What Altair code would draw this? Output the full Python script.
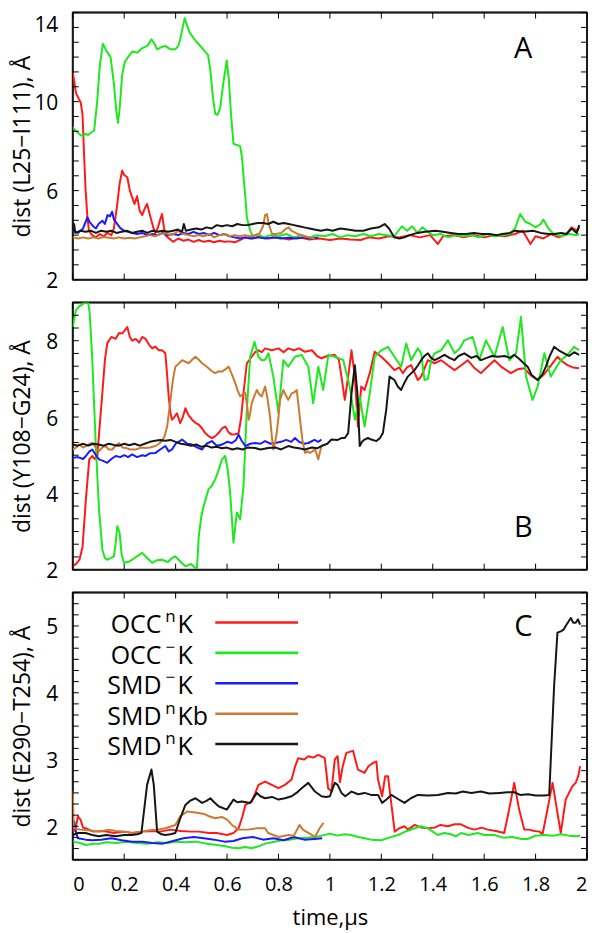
import altair as alt
import pandas as pd
import numpy as np

SERIES = ["OCCⁿK", "OCC⁻K", "SMD⁻K", "SMDⁿKb", "SMDⁿK"]
LEG_BASE = ["OCC", "OCC", "SMD", "SMD", "SMD"]
LEG_SUP = ["n", "−", "−", "n", "n"]
LEG_TAIL = ["K", "K", "K", "Kb", "K"]
COLORS = ["#ff1a1a", "#1ee81e", "#1a1aff", "#cc7a30", "#161616"]

# ---------------- Panel A : dist (L25-I111) ----------------
A_OCCnK = [(0.000, 11.3), (0.006, 10.9), (0.012, 10.4), (0.020, 10.2), (0.031, 9.95), (0.038, 9.4), (0.044, 7.6), (0.050, 6.0),
           (0.057, 4.8), (0.063, 4.2), (0.075, 4.0), (0.090, 3.9), (0.105, 4.05), (0.120, 3.95), (0.135, 4.1), (0.150, 4.0),
           (0.160, 4.3), (0.172, 5.3), (0.182, 6.3), (0.192, 6.9), (0.200, 6.7), (0.212, 6.6), (0.222, 6.0), (0.231, 5.7),
           (0.240, 5.4), (0.250, 5.75), (0.260, 5.1), (0.270, 4.9), (0.280, 5.2), (0.289, 5.4), (0.298, 5.0), (0.306, 4.65),
           (0.314, 4.3), (0.321, 4.1), (0.330, 4.3), (0.340, 4.7), (0.347, 4.95), (0.354, 4.4), (0.360, 4.0), (0.375, 3.85),
           (0.390, 3.7), (0.410, 3.85), (0.430, 3.75), (0.450, 3.8), (0.470, 3.7), (0.490, 3.78), (0.510, 3.7), (0.530, 3.75),
           (0.550, 3.68), (0.570, 3.75), (0.590, 3.7), (0.610, 3.72), (0.630, 3.68), (0.650, 3.78), (0.670, 3.9), (0.700, 3.85),
           (0.730, 3.95), (0.760, 3.85), (0.800, 3.9), (0.840, 3.8), (0.880, 3.9), (0.920, 3.8), (0.960, 3.85), (1.000, 3.78),
           (1.040, 3.85), (1.080, 3.8), (1.120, 3.78), (1.150, 3.9), (1.190, 3.85), (1.230, 3.95), (1.270, 3.9), (1.310, 4.0),
           (1.350, 3.9), (1.390, 4.0), (1.420, 3.6), (1.440, 3.95), (1.480, 4.0), (1.520, 3.9), (1.560, 4.0), (1.600, 3.9),
           (1.640, 4.0), (1.680, 3.95), (1.720, 4.05), (1.750, 4.2), (1.780, 3.6), (1.800, 3.95), (1.830, 3.85), (1.860, 4.05),
           (1.890, 3.9), (1.920, 4.05), (1.940, 4.35), (1.960, 4.2), (1.970, 4.35)]
A_OCCmK = [(0.000, 8.85), (0.010, 8.7), (0.020, 8.6), (0.030, 8.5), (0.040, 8.45), (0.050, 8.55), (0.060, 8.5), (0.070, 8.6),
           (0.083, 8.7), (0.095, 10.0), (0.105, 11.6), (0.117, 12.6), (0.130, 12.3), (0.147, 12.0), (0.160, 10.8), (0.170, 9.5),
           (0.176, 9.05), (0.183, 9.8), (0.192, 11.2), (0.203, 11.8), (0.215, 12.0), (0.231, 12.25), (0.250, 12.2), (0.270, 12.4),
           (0.290, 12.5), (0.306, 12.8), (0.318, 12.6), (0.328, 12.35), (0.345, 12.45), (0.360, 12.5), (0.380, 12.35), (0.399, 12.35),
           (0.410, 12.5), (0.418, 12.8), (0.427, 13.3), (0.435, 13.75), (0.445, 13.4), (0.455, 13.1), (0.464, 12.95), (0.480, 12.7),
           (0.496, 12.5), (0.510, 12.3), (0.526, 12.1), (0.535, 11.4), (0.545, 10.2), (0.554, 9.45), (0.563, 9.4), (0.573, 9.7),
           (0.585, 10.8), (0.599, 11.85), (0.607, 11.0), (0.615, 9.5), (0.625, 8.1), (0.638, 8.05), (0.651, 8.0), (0.658, 7.5),
           (0.665, 6.5), (0.672, 5.6), (0.677, 4.8), (0.690, 4.2), (0.700, 3.95), (0.720, 4.05), (0.740, 3.9), (0.770, 4.0),
           (0.800, 3.95), (0.830, 4.05), (0.860, 3.9), (0.890, 4.0), (0.920, 3.9), (0.950, 4.0), (0.980, 3.95), (1.010, 4.05),
           (1.040, 3.9), (1.070, 4.0), (1.100, 3.95), (1.130, 4.05), (1.160, 3.95), (1.190, 4.05), (1.220, 4.0), (1.250, 3.95),
           (1.280, 4.4), (1.300, 4.2), (1.320, 4.4), (1.340, 4.1), (1.360, 4.35), (1.380, 4.15), (1.400, 4.0), (1.430, 4.05),
           (1.460, 3.9), (1.490, 4.0), (1.520, 3.95), (1.550, 4.0), (1.580, 3.9), (1.610, 4.05), (1.640, 3.95), (1.670, 4.0),
           (1.700, 4.05), (1.720, 4.3), (1.740, 4.95), (1.760, 4.6), (1.780, 4.5), (1.800, 4.35), (1.820, 4.5), (1.830, 4.7),
           (1.850, 4.3), (1.870, 4.05), (1.900, 3.95), (1.930, 4.05), (1.960, 4.0), (1.970, 4.05)]
A_SMDmK = [(0.000, 4.2), (0.020, 4.1), (0.040, 4.3), (0.057, 4.8), (0.065, 4.6), (0.079, 4.4), (0.090, 4.3), (0.100, 4.5),
           (0.115, 4.65), (0.125, 4.5), (0.135, 4.9), (0.145, 4.85), (0.153, 5.05), (0.160, 4.7), (0.167, 4.6), (0.176, 4.45),
           (0.186, 4.3), (0.200, 4.2), (0.215, 4.15), (0.231, 4.1), (0.250, 4.05), (0.270, 4.1), (0.290, 4.0), (0.310, 4.05),
           (0.330, 4.0), (0.350, 4.1), (0.370, 4.0), (0.390, 4.05), (0.410, 4.0), (0.430, 4.1), (0.450, 4.05), (0.470, 4.15),
           (0.490, 4.05), (0.510, 4.1), (0.530, 4.0), (0.550, 4.1), (0.570, 4.0), (0.590, 4.05), (0.610, 3.95), (0.630, 3.9),
           (0.650, 3.85), (0.670, 3.9), (0.690, 3.85), (0.720, 3.9), (0.750, 3.85), (0.780, 3.9), (0.810, 3.85), (0.840, 3.88),
           (0.870, 3.85), (0.900, 3.9), (0.930, 3.85), (0.955, 3.9)]
A_SMDnKb = [(0.000, 3.9), (0.020, 3.85), (0.040, 3.9), (0.060, 3.85), (0.080, 3.9), (0.100, 3.85), (0.120, 3.92), (0.140, 3.88),
            (0.160, 3.85), (0.180, 3.9), (0.200, 3.85), (0.220, 3.88), (0.240, 3.85), (0.260, 3.9), (0.280, 3.95), (0.300, 4.0),
            (0.320, 3.95), (0.340, 4.05), (0.360, 4.1), (0.380, 4.0), (0.400, 4.1), (0.410, 4.2), (0.430, 4.05), (0.450, 4.0),
            (0.470, 3.95), (0.490, 4.0), (0.510, 3.95), (0.530, 4.05), (0.550, 3.9), (0.570, 4.0), (0.590, 4.05), (0.610, 3.95),
            (0.630, 4.0), (0.650, 3.95), (0.670, 4.0), (0.690, 3.95), (0.710, 4.0), (0.725, 4.05), (0.740, 4.4), (0.748, 4.9),
            (0.755, 4.95), (0.762, 4.5), (0.775, 4.05), (0.790, 4.05), (0.810, 4.1), (0.830, 4.3), (0.840, 4.35), (0.850, 4.2),
            (0.876, 4.05), (0.900, 3.95), (0.920, 3.9), (0.942, 3.84)]
A_SMDnK = [(0.000, 4.2), (0.005, 4.5), (0.010, 4.1), (0.030, 4.2), (0.050, 4.15), (0.070, 4.2), (0.090, 4.1), (0.110, 4.2),
           (0.130, 4.15), (0.150, 4.2), (0.170, 4.1), (0.190, 4.15), (0.210, 4.2), (0.230, 4.1), (0.250, 4.15), (0.270, 4.2),
           (0.290, 4.1), (0.310, 4.2), (0.330, 4.15), (0.350, 4.2), (0.370, 4.15), (0.390, 4.2), (0.410, 4.25), (0.425, 4.15),
           (0.432, 4.5), (0.440, 4.2), (0.460, 4.25), (0.480, 4.3), (0.500, 4.25), (0.520, 4.35), (0.540, 4.3), (0.560, 4.45),
           (0.580, 4.4), (0.600, 4.45), (0.620, 4.4), (0.640, 4.5), (0.660, 4.45), (0.680, 4.45), (0.700, 4.5), (0.720, 4.55),
           (0.740, 4.55), (0.760, 4.5), (0.780, 4.6), (0.800, 4.5), (0.820, 4.55), (0.840, 4.5), (0.860, 4.45), (0.880, 4.4),
           (0.900, 4.35), (0.920, 4.3), (0.940, 4.25), (0.965, 4.2), (0.990, 4.25), (1.010, 4.2), (1.040, 4.3), (1.070, 4.25),
           (1.100, 4.2), (1.130, 4.2), (1.160, 4.3), (1.190, 4.35), (1.213, 4.5), (1.230, 4.3), (1.250, 3.9), (1.270, 3.85),
           (1.290, 3.9), (1.310, 4.0), (1.340, 4.1), (1.370, 4.15), (1.410, 4.2), (1.440, 4.15), (1.470, 4.1), (1.500, 4.05),
           (1.530, 4.05), (1.560, 4.1), (1.590, 4.05), (1.620, 4.05), (1.650, 4.0), (1.670, 4.05), (1.700, 4.1), (1.720, 4.2),
           (1.750, 4.15), (1.790, 4.2), (1.820, 4.1), (1.850, 4.05), (1.870, 4.05), (1.900, 4.1), (1.920, 4.05), (1.940, 4.3),
           (1.960, 4.1), (1.970, 4.45)]

# ---------------- Panel B : dist (Y108-G24) ----------------
B_OCCnK = [(0.000, 2.09), (0.013, 2.15), (0.026, 2.26), (0.038, 2.6), (0.051, 3.84), (0.064, 4.89), (0.076, 4.98), (0.086, 4.9),
           (0.096, 5.0), (0.105, 5.8), (0.115, 6.63), (0.125, 7.5), (0.134, 7.93), (0.150, 8.1), (0.167, 8.05), (0.180, 8.2),
           (0.193, 8.19), (0.205, 8.3), (0.212, 8.36), (0.222, 8.1), (0.231, 8.0), (0.245, 8.05), (0.258, 7.95), (0.270, 8.1),
           (0.283, 8.05), (0.296, 7.9), (0.309, 7.8), (0.320, 7.85), (0.335, 7.75), (0.347, 7.75), (0.360, 7.67), (0.367, 7.1),
           (0.373, 6.54), (0.380, 6.1), (0.386, 5.93), (0.395, 6.0), (0.405, 6.1), (0.418, 5.84), (0.428, 6.0), (0.438, 6.23),
           (0.450, 6.05), (0.464, 5.93), (0.477, 5.85), (0.490, 5.8), (0.503, 5.7), (0.515, 5.58), (0.528, 5.5), (0.541, 5.45),
           (0.554, 5.5), (0.567, 5.58), (0.580, 5.7), (0.593, 5.75), (0.606, 5.6), (0.619, 5.54), (0.632, 5.55), (0.645, 5.58),
           (0.655, 6.0), (0.664, 6.63), (0.677, 7.41), (0.696, 7.58), (0.709, 7.7), (0.722, 7.75), (0.735, 7.7), (0.748, 7.8),
           (0.774, 7.75), (0.800, 7.8), (0.820, 7.7), (0.838, 7.8), (0.860, 7.75), (0.880, 7.8), (0.903, 7.71), (0.930, 7.75),
           (0.950, 7.6), (0.967, 7.54), (0.990, 7.6), (1.019, 7.63), (1.035, 7.5), (1.045, 7.06), (1.058, 6.45), (1.071, 7.06),
           (1.084, 7.75), (1.097, 7.06), (1.109, 5.75), (1.122, 6.8), (1.135, 6.71), (1.155, 7.15), (1.174, 7.71), (1.200, 7.58),
           (1.226, 7.41), (1.251, 7.23), (1.270, 7.3), (1.284, 7.15), (1.300, 7.3), (1.316, 7.36), (1.342, 6.97), (1.355, 7.06),
           (1.381, 7.49), (1.407, 7.41), (1.433, 7.49), (1.460, 7.35), (1.485, 7.23), (1.510, 7.35), (1.536, 7.49), (1.560, 7.3),
           (1.588, 7.15), (1.610, 7.3), (1.640, 7.49), (1.670, 7.3), (1.704, 7.15), (1.730, 7.25), (1.756, 7.28), (1.780, 7.1),
           (1.808, 6.97), (1.830, 7.1), (1.846, 7.23), (1.865, 7.4), (1.885, 7.58), (1.905, 7.45), (1.924, 7.36), (1.945, 7.3),
           (1.969, 7.28)]
B_OCCmK = [(0.000, 8.36), (0.012, 8.8), (0.025, 8.9), (0.038, 8.96), (0.050, 9.0), (0.060, 9.0), (0.066, 8.71), (0.076, 7.49),
           (0.089, 5.32), (0.102, 3.58), (0.115, 2.53), (0.125, 2.3), (0.134, 2.26), (0.147, 2.3), (0.160, 2.35), (0.167, 2.7),
           (0.173, 3.14), (0.182, 2.97), (0.190, 2.4), (0.199, 2.18), (0.215, 2.2), (0.231, 2.26), (0.250, 2.35), (0.270, 2.44),
           (0.290, 2.3), (0.309, 2.18), (0.328, 2.25), (0.347, 2.26), (0.370, 2.2), (0.385, 2.3), (0.399, 2.35), (0.420, 2.2),
           (0.438, 2.09), (0.460, 2.15), (0.475, 2.05), (0.483, 2.04), (0.490, 2.88), (0.500, 3.4), (0.509, 3.67), (0.528, 4.11),
           (0.541, 4.2), (0.554, 4.37), (0.567, 4.6), (0.580, 4.89), (0.593, 4.98), (0.603, 4.6), (0.612, 4.02), (0.625, 2.71),
           (0.638, 3.5), (0.651, 3.32), (0.664, 4.2), (0.677, 6.2), (0.690, 7.58), (0.707, 7.97), (0.722, 7.58), (0.735, 7.49),
           (0.748, 7.5), (0.761, 7.67), (0.780, 7.06), (0.800, 6.1), (0.819, 7.49), (0.838, 7.32), (0.864, 7.58), (0.890, 7.63),
           (0.916, 7.32), (0.935, 6.36), (0.955, 7.32), (0.974, 6.71), (0.994, 7.63), (1.019, 7.58), (1.052, 7.49), (1.077, 6.8),
           (1.097, 5.93), (1.116, 6.54), (1.135, 5.75), (1.155, 6.62), (1.174, 7.58), (1.200, 7.75), (1.226, 7.84), (1.251, 7.58),
           (1.277, 7.32), (1.297, 7.93), (1.316, 7.49), (1.342, 7.8), (1.355, 7.67), (1.368, 6.97), (1.381, 7.0), (1.394, 7.49),
           (1.407, 7.67), (1.433, 7.75), (1.459, 8.01), (1.485, 7.67), (1.505, 7.8), (1.523, 8.01), (1.555, 8.1), (1.581, 7.49),
           (1.607, 8.01), (1.640, 7.58), (1.672, 8.36), (1.698, 7.49), (1.724, 7.67), (1.743, 8.62), (1.763, 7.06), (1.788, 6.45),
           (1.808, 6.8), (1.834, 7.67), (1.859, 7.06), (1.880, 7.3), (1.898, 7.49), (1.924, 7.63), (1.950, 7.84), (1.969, 7.75)]
B_SMDmK = [(0.000, 4.93), (0.020, 4.95), (0.040, 4.9), (0.051, 4.98), (0.065, 5.1), (0.076, 5.15), (0.090, 5.0), (0.102, 4.89),
           (0.118, 4.85), (0.134, 4.8), (0.150, 4.9), (0.167, 4.98), (0.185, 4.95), (0.200, 5.0), (0.215, 4.95), (0.231, 5.02),
           (0.250, 4.95), (0.270, 5.0), (0.283, 4.98), (0.300, 5.05), (0.322, 5.06), (0.340, 5.15), (0.360, 5.24), (0.373, 5.1),
           (0.386, 5.15), (0.400, 5.3), (0.425, 5.41), (0.445, 5.3), (0.464, 5.28), (0.485, 5.2), (0.503, 5.15), (0.520, 5.3),
           (0.541, 5.37), (0.560, 5.25), (0.580, 5.28), (0.600, 5.35), (0.619, 5.32), (0.635, 5.4), (0.645, 5.54), (0.655, 5.4),
           (0.671, 5.24), (0.690, 5.3), (0.709, 5.32), (0.730, 5.3), (0.748, 5.37), (0.770, 5.3), (0.787, 5.32), (0.810, 5.35),
           (0.830, 5.4), (0.850, 5.35), (0.864, 5.45), (0.880, 5.35), (0.900, 5.3), (0.916, 5.32), (0.940, 5.4), (0.955, 5.35),
           (0.967, 5.41)]
B_SMDnKb = [(0.000, 5.15), (0.013, 5.2), (0.026, 5.28), (0.040, 5.2), (0.051, 5.24), (0.065, 5.3), (0.076, 5.32), (0.090, 5.2),
            (0.102, 5.11), (0.115, 5.2), (0.128, 5.24), (0.140, 5.15), (0.154, 5.15), (0.167, 5.25), (0.180, 5.32), (0.193, 5.2),
            (0.206, 5.19), (0.225, 5.15), (0.245, 5.15), (0.265, 5.2), (0.283, 5.19), (0.300, 5.2), (0.322, 5.24), (0.335, 5.3),
            (0.347, 5.37), (0.357, 5.5), (0.367, 5.75), (0.380, 6.45), (0.390, 7.0), (0.399, 7.32), (0.412, 7.4), (0.425, 7.49),
            (0.438, 7.45), (0.451, 7.41), (0.464, 7.5), (0.477, 7.58), (0.490, 7.5), (0.503, 7.41), (0.515, 7.35), (0.528, 7.28),
            (0.541, 7.2), (0.554, 7.15), (0.567, 7.2), (0.580, 7.19), (0.593, 7.25), (0.606, 7.32), (0.620, 7.1), (0.632, 6.89),
            (0.641, 6.7), (0.651, 6.54), (0.661, 6.6), (0.671, 6.63), (0.678, 6.3), (0.684, 5.93), (0.690, 6.1), (0.696, 6.36),
            (0.706, 6.55), (0.716, 6.71), (0.725, 6.6), (0.735, 6.54), (0.748, 6.8), (0.757, 6.5), (0.767, 6.02), (0.774, 5.5),
            (0.780, 5.15), (0.786, 5.3), (0.793, 5.58), (0.800, 6.0), (0.806, 6.45), (0.819, 6.71), (0.830, 6.55), (0.838, 6.45),
            (0.851, 6.62), (0.862, 6.65), (0.871, 6.71), (0.878, 6.3), (0.884, 5.93), (0.893, 5.4), (0.903, 5.06), (0.912, 5.1),
            (0.922, 5.06), (0.932, 5.1), (0.942, 5.15), (0.950, 5.0), (0.955, 4.89), (0.962, 5.1), (0.967, 5.24)]
B_SMDnK = [(0.000, 5.28), (0.020, 5.25), (0.040, 5.3), (0.060, 5.25), (0.080, 5.3), (0.100, 5.28), (0.120, 5.25), (0.140, 5.3),
           (0.160, 5.27), (0.180, 5.25), (0.200, 5.3), (0.220, 5.26), (0.240, 5.3), (0.260, 5.25), (0.280, 5.3), (0.300, 5.35),
           (0.320, 5.38), (0.340, 5.4), (0.360, 5.38), (0.380, 5.4), (0.400, 5.35), (0.420, 5.3), (0.440, 5.28), (0.460, 5.25),
           (0.480, 5.28), (0.500, 5.22), (0.520, 5.25), (0.540, 5.2), (0.560, 5.22), (0.580, 5.18), (0.600, 5.2), (0.620, 5.15),
           (0.640, 5.18), (0.660, 5.15), (0.680, 5.2), (0.709, 5.19), (0.730, 5.15), (0.760, 5.19), (0.790, 5.2), (0.810, 5.15),
           (0.838, 5.24), (0.860, 5.2), (0.880, 5.18), (0.903, 5.15), (0.930, 5.2), (0.950, 5.18), (0.967, 5.24), (0.990, 5.3),
           (1.006, 5.41), (1.030, 5.4), (1.045, 5.45), (1.058, 5.45), (1.071, 5.58), (1.084, 6.62), (1.097, 7.36), (1.107, 6.62),
           (1.116, 5.24), (1.125, 5.35), (1.135, 5.41), (1.148, 5.45), (1.161, 5.41), (1.181, 5.37), (1.195, 5.45), (1.206, 5.58),
           (1.219, 6.19), (1.232, 7.06), (1.251, 6.97), (1.264, 6.8), (1.277, 6.71), (1.290, 6.9), (1.303, 7.06), (1.329, 7.23),
           (1.342, 7.35), (1.355, 7.49), (1.368, 7.6), (1.381, 7.67), (1.394, 7.55), (1.407, 7.49), (1.425, 7.55), (1.446, 7.63),
           (1.465, 7.55), (1.484, 7.49), (1.500, 7.6), (1.523, 7.67), (1.550, 7.55), (1.570, 7.6), (1.588, 7.49), (1.610, 7.55),
           (1.630, 7.6), (1.653, 7.58), (1.680, 7.6), (1.700, 7.55), (1.717, 7.63), (1.740, 7.5), (1.755, 7.4), (1.769, 7.32),
           (1.785, 7.1), (1.808, 6.97), (1.825, 7.1), (1.840, 7.32), (1.855, 7.6), (1.872, 7.84), (1.890, 7.75), (1.911, 7.67),
           (1.930, 7.6), (1.950, 7.7), (1.969, 7.63)]

# ---------------- Panel C : dist (E290-T254) ----------------
C_OCCnK = [(0.000, 1.92), (0.010, 1.95), (0.020, 2.15), (0.030, 2.1), (0.040, 1.98), (0.050, 1.97), (0.080, 1.92), (0.120, 1.93),
           (0.160, 1.9), (0.200, 1.92), (0.231, 1.9), (0.270, 1.92), (0.310, 1.93), (0.340, 1.92), (0.380, 1.95), (0.420, 1.93),
           (0.460, 1.92), (0.490, 1.92), (0.530, 1.9), (0.560, 1.9), (0.600, 1.87), (0.625, 1.9), (0.645, 1.97), (0.660, 2.15),
           (0.671, 2.32), (0.696, 2.37), (0.710, 2.5), (0.722, 2.62), (0.748, 2.67), (0.774, 2.62), (0.800, 2.57), (0.825, 2.62),
           (0.851, 2.7), (0.865, 2.9), (0.877, 3.02), (0.900, 3.0), (0.916, 3.05), (0.935, 3.03), (0.955, 3.07), (0.980, 3.02),
           (0.993, 2.57), (1.006, 2.52), (1.019, 3.0), (1.030, 3.05), (1.039, 2.66), (1.050, 2.9), (1.064, 3.1), (1.090, 3.13),
           (1.109, 2.85), (1.135, 2.8), (1.150, 2.9), (1.168, 2.95), (1.181, 2.97), (1.187, 2.7), (1.203, 2.45), (1.215, 2.75),
           (1.226, 2.75), (1.240, 2.3), (1.252, 1.92), (1.270, 1.97), (1.290, 2.0), (1.303, 1.95), (1.330, 2.02), (1.355, 1.98),
           (1.380, 1.97), (1.407, 1.98), (1.430, 2.02), (1.459, 2.0), (1.485, 2.03), (1.510, 2.03), (1.535, 1.98), (1.562, 1.95),
           (1.590, 1.98), (1.614, 1.95), (1.645, 1.93), (1.678, 1.9), (1.697, 2.25), (1.717, 2.65), (1.736, 2.25), (1.756, 1.95),
           (1.775, 1.95), (1.795, 1.93), (1.815, 1.92), (1.827, 1.88), (1.846, 2.25), (1.866, 2.65), (1.885, 2.2), (1.898, 1.9),
           (1.917, 2.4), (1.930, 2.5), (1.943, 2.6), (1.956, 2.65), (1.966, 2.75), (1.973, 2.9)]
C_OCCmK = [(0.000, 1.77), (0.030, 1.75), (0.050, 1.72), (0.080, 1.74), (0.102, 1.74), (0.130, 1.76), (0.170, 1.75), (0.210, 1.77),
           (0.250, 1.75), (0.290, 1.74), (0.330, 1.76), (0.370, 1.75), (0.400, 1.77), (0.440, 1.76), (0.480, 1.77), (0.520, 1.74),
           (0.560, 1.72), (0.593, 1.7), (0.620, 1.68), (0.645, 1.67), (0.670, 1.69), (0.696, 1.67), (0.722, 1.7), (0.748, 1.74),
           (0.775, 1.76), (0.812, 1.79), (0.845, 1.8), (0.877, 1.82), (0.910, 1.83), (0.942, 1.84), (0.970, 1.86), (1.000, 1.89),
           (1.030, 1.86), (1.058, 1.88), (1.084, 1.87), (1.110, 1.84), (1.135, 1.82), (1.160, 1.8), (1.200, 1.79), (1.230, 1.83),
           (1.265, 1.87), (1.300, 1.93), (1.330, 1.97), (1.355, 2.0), (1.381, 1.97), (1.400, 1.92), (1.420, 1.87), (1.445, 1.9),
           (1.470, 1.88), (1.490, 1.85), (1.510, 1.9), (1.540, 1.87), (1.575, 1.9), (1.600, 1.87), (1.640, 1.87), (1.675, 1.83),
           (1.710, 1.84), (1.745, 1.81), (1.769, 1.81), (1.800, 1.86), (1.833, 1.87), (1.870, 1.86), (1.898, 1.88), (1.930, 1.86),
           (1.960, 1.85), (1.973, 1.86)]
C_SMDmK = [(0.000, 1.97), (0.006, 2.07), (0.013, 1.9), (0.020, 1.82), (0.050, 1.8), (0.076, 1.79), (0.110, 1.8), (0.150, 1.82),
           (0.190, 1.79), (0.231, 1.77), (0.270, 1.77), (0.310, 1.75), (0.350, 1.74), (0.390, 1.78), (0.430, 1.82), (0.470, 1.84),
           (0.510, 1.82), (0.550, 1.8), (0.590, 1.77), (0.625, 1.78), (0.660, 1.82), (0.700, 1.84), (0.740, 1.8), (0.780, 1.82),
           (0.820, 1.79), (0.860, 1.84), (0.900, 1.8), (0.940, 1.81), (0.970, 1.82)]
C_SMDnKb = [(0.000, 2.52), (0.002, 2.22), (0.004, 1.97), (0.030, 1.95), (0.060, 1.94), (0.102, 1.92), (0.140, 1.95), (0.167, 1.93),
            (0.200, 1.92), (0.231, 1.9), (0.270, 1.92), (0.300, 1.94), (0.330, 1.95), (0.360, 1.97), (0.399, 2.02), (0.418, 2.15),
            (0.444, 2.22), (0.470, 2.21), (0.490, 2.2), (0.515, 2.18), (0.530, 2.15), (0.554, 2.12), (0.580, 2.14), (0.600, 2.1),
            (0.619, 2.02), (0.645, 1.95), (0.680, 1.95), (0.716, 1.97), (0.748, 1.97), (0.760, 1.9), (0.800, 1.84), (0.838, 1.87),
            (0.860, 1.86), (0.882, 2.02), (0.895, 1.95), (0.916, 1.9), (0.942, 1.84), (0.960, 1.97), (0.975, 2.05)]
C_SMDnK = [(0.000, 1.87), (0.020, 1.9), (0.050, 1.9), (0.076, 1.87), (0.102, 1.85), (0.130, 1.87), (0.167, 1.85), (0.200, 1.87),
           (0.231, 1.87), (0.250, 1.88), (0.267, 1.9), (0.289, 2.62), (0.306, 2.85), (0.315, 2.62), (0.328, 1.92), (0.345, 1.88),
           (0.360, 1.87), (0.380, 1.88), (0.399, 1.9), (0.418, 2.12), (0.438, 2.32), (0.455, 2.38), (0.477, 2.42), (0.503, 2.35),
           (0.520, 2.38), (0.535, 2.42), (0.550, 2.36), (0.567, 2.3), (0.599, 2.25), (0.625, 2.4), (0.640, 2.36), (0.657, 2.37),
           (0.690, 2.35), (0.716, 2.5), (0.730, 2.45), (0.748, 2.42), (0.775, 2.44), (0.800, 2.4), (0.825, 2.42), (0.851, 2.45),
           (0.870, 2.5), (0.890, 2.57), (0.916, 2.65), (0.942, 2.52), (0.967, 2.45), (0.985, 2.44), (1.000, 2.45), (1.019, 2.65),
           (1.030, 2.62), (1.045, 2.5), (1.060, 2.45), (1.084, 2.52), (1.110, 2.48), (1.135, 2.5), (1.160, 2.47), (1.187, 2.47),
           (1.203, 2.35), (1.220, 2.4), (1.239, 2.47), (1.260, 2.42), (1.290, 2.35), (1.315, 2.42), (1.342, 2.47), (1.381, 2.46),
           (1.420, 2.47), (1.459, 2.5), (1.490, 2.49), (1.517, 2.52), (1.550, 2.5), (1.587, 2.52), (1.620, 2.49), (1.660, 2.5),
           (1.690, 2.51), (1.717, 2.51), (1.740, 2.47), (1.770, 2.48), (1.800, 2.46), (1.833, 2.46), (1.853, 2.47), (1.872, 4.1),
           (1.885, 4.9), (1.898, 4.92), (1.910, 4.95), (1.917, 5.0), (1.937, 5.12), (1.946, 5.05), (1.956, 5.05), (1.965, 5.1),
           (1.973, 5.02)]

X_TICKS = [0.0, 0.2, 0.4, 0.6, 0.8, 1.0, 1.2, 1.4, 1.6, 1.8, 2.0]
A_YTICKS = [2, 6, 10, 14]
B_YTICKS = [2, 4, 6, 8]
C_YTICKS = [2, 3, 4, 5]
A_YDOMAIN = [2, 14]
B_YDOMAIN = [2, 9]
C_YDOMAIN = [1.5, 5.5]
A_MINOR = list(np.round(np.arange(2, 14.001, 2 / 3), 4))
B_MINOR = list(np.round(np.arange(2, 9.001, 1 / 3), 4))
C_MINOR = list(np.round(np.arange(1.5, 5.501, 1 / 6), 4))

W, H = 516, 268
FONT = "Open Sans"
TICK = 6
FRAME = "#1a1a1a"


def panel(series_data, ydom, yticks, minor, title, letter, letter_y, bottom=False, legend=False):
    xs = alt.Scale(domain=[0, 2], nice=False, zero=False)
    ys = alt.Scale(domain=ydom, nice=False, zero=False)
    if bottom:
        xaxis = alt.Axis(values=X_TICKS, format="~g", ticks=False, domain=False, grid=False,
                         labelFontSize=20, labelFont=FONT, labelColor="black", labelPadding=15,
                         title="time,µs", titleFontSize=22, titleFont=FONT, titleFontWeight="normal",
                         titleColor="black", titlePadding=13)
    else:
        xaxis = None
    top_test = "datum.value >= %g" % ydom[1]
    yaxis = alt.Axis(values=yticks, ticks=False, domain=False, grid=False,
                     labelFontSize=21, labelFont=FONT, labelColor="black", labelPadding=15,
                     labelOffset=2,
                     labelBaseline={"condition": {"test": top_test, "value": "top"}, "value": "middle"},
                     minExtent=32, maxExtent=32,
                     title=title, titleFontSize=23, titleFont=FONT, titleFontWeight="normal",
                     titleColor="black", titlePadding=6)
    X = lambda: alt.X("t:Q", scale=xs, axis=xaxis)
    Y = lambda: alt.Y("v:Q", scale=ys, axis=yaxis)

    layers = []
    # frame of the plot area: four rules along the domain edges (drawn first, under the data)
    edge_x = pd.DataFrame({"t": [0.0, 2.0]})
    edge_y = pd.DataFrame({"v": list(ydom)})
    layers.append(alt.Chart(edge_x).mark_rule(color=FRAME, strokeWidth=2, opacity=1).encode(
        x=X(), y=alt.value(0), y2=alt.value(H)))
    layers.append(alt.Chart(edge_y).mark_rule(color=FRAME, strokeWidth=2, opacity=1).encode(
        y=Y(), x=alt.value(0), x2=alt.value(W)))
    for (pts, color) in zip(series_data, COLORS):
        df = pd.DataFrame(pts, columns=["t", "v"])
        layers.append(alt.Chart(df).mark_line(color=color, strokeWidth=2.0, clip=True,
                                              strokeJoin="round").encode(x=X(), y=Y()))
    ydf = pd.DataFrame({"v": minor})
    xdf = pd.DataFrame({"t": X_TICKS})
    tick_style = dict(color="black", strokeWidth=1)
    layers.append(alt.Chart(ydf).mark_rule(**tick_style).encode(
        y=Y(), x=alt.value(0), x2=alt.value(TICK)))
    layers.append(alt.Chart(ydf).mark_rule(**tick_style).encode(
        y=Y(), x=alt.value(W - TICK), x2=alt.value(W)))
    layers.append(alt.Chart(xdf).mark_rule(**tick_style).encode(
        x=X(), y=alt.value(0), y2=alt.value(TICK)))
    layers.append(alt.Chart(xdf).mark_rule(**tick_style).encode(
        x=X(), y=alt.value(H - TICK), y2=alt.value(H)))
    layers.append(alt.Chart(pd.DataFrame({"l": [letter]})).mark_text(
        fontSize=29, font=FONT, color="black", align="center", baseline="middle").encode(
        x=alt.value(452), y=alt.value(letter_y), text="l:N"))
    if legend:
        ly = [30, 60.5, 91, 121.5, 152]
        for base, sup, tail, color, yy in zip(LEG_BASE, LEG_SUP, LEG_TAIL, COLORS, ly):
            layers.append(alt.Chart(pd.DataFrame({"s": [base]})).mark_text(
                fontSize=25, font=FONT, color="black", align="right", baseline="middle").encode(
                x=alt.value(89), y=alt.value(yy + 3), text="s:N"))
            layers.append(alt.Chart(pd.DataFrame({"s": [sup]})).mark_text(
                fontSize=17, font=FONT, color="black", align="center", baseline="middle").encode(
                x=alt.value(98), y=alt.value(yy - 5), text="s:N"))
            layers.append(alt.Chart(pd.DataFrame({"s": [tail]})).mark_text(
                fontSize=25, font=FONT, color="black", align="left", baseline="middle").encode(
                x=alt.value(105), y=alt.value(yy + 3), text="s:N"))
            layers.append(alt.Chart(pd.DataFrame({"s": [base]})).mark_rule(
                color=color, strokeWidth=2.6).encode(
                x=alt.value(143), x2=alt.value(226), y=alt.value(yy)))
    return alt.layer(*layers).properties(width=W, height=H)


pA = panel([A_OCCnK, A_OCCmK, A_SMDmK, A_SMDnKb, A_SMDnK], A_YDOMAIN, A_YTICKS, A_MINOR,
           "dist (L25−I111), Å", "A", 37)
pB = panel([B_OCCnK, B_OCCmK, B_SMDmK, B_SMDnKb, B_SMDnK], B_YDOMAIN, B_YTICKS, B_MINOR,
           "dist (Y108−G24), Å", "B", 226)
pC = panel([C_OCCnK, C_OCCmK, C_SMDmK, C_SMDnKb, C_SMDnK], C_YDOMAIN, C_YTICKS, C_MINOR,
           "dist (E290−T254), Å", "C", 35, bottom=True, legend=True)

chart = alt.vconcat(pA, pB, pC, spacing=23, bounds="flush").properties(
    padding={"left": 3, "top": 1, "right": 3, "bottom": 4},
    background="white"
).configure_view(stroke=FRAME, strokeWidth=1.5)

chart.save("out.html", embed_options={"renderer": "svg", "actions": False})
